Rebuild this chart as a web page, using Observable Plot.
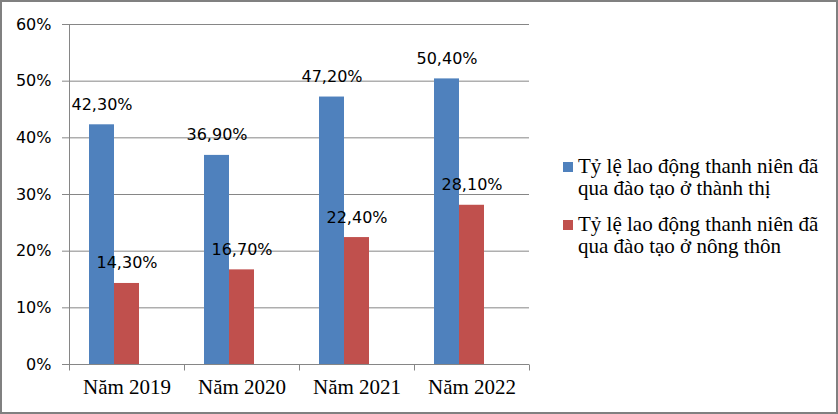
<!DOCTYPE html>
<html>
<head>
<meta charset="utf-8">
<script src="https://cdn.jsdelivr.net/npm/d3@7"></script>
<script src="https://cdn.jsdelivr.net/npm/@observablehq/plot@0.6"></script>
<style>
  html, body { margin: 0; padding: 0; background: #fff; }
  #wrap { position: relative; width: 838px; height: 414px; box-sizing: border-box; border: 2px solid #808080; background: #fff; overflow: hidden; }
  #chart { position: absolute; left: 0; top: 0; }
  #legend { position: absolute; left: 561px; top: 153px; font-family: "Liberation Serif", "Times New Roman", serif; font-size: 21px; line-height: 22px; color: #000; }
  .item { position: relative; padding-left: 15px; white-space: nowrap; }
  .item + .item { margin-top: 14px; }
  .sw { position: absolute; left: 0; top: 7px; width: 10px; height: 10px; }
  g[aria-label="fx-axis tick label"] { font-family: "Liberation Serif", "Times New Roman", serif; font-size: 21px; }
</style>
</head>
<body>
<div id="wrap">
  <div id="chart"></div>
  <div id="legend"></div>
</div>
<script>
const years = ["Năm 2019", "Năm 2020", "Năm 2021", "Năm 2022"];
const seriesNames = [
  "Tỷ lệ lao động thanh niên đã qua đào tạo ở thành thị",
  "Tỷ lệ lao động thanh niên đã qua đào tạo ở nông thôn"
];
const legendLines = [
  ["Tỷ lệ lao động thanh niên đã", "qua đào tạo ở thành thị"],
  ["Tỷ lệ lao động thanh niên đã", "qua đào tạo ở nông thôn"]
];
const urban = [42.3, 36.9, 47.2, 50.4];
const rural = [14.3, 16.7, 22.4, 28.1];
const colors = ["#4F81BD", "#C0504D"];
const yTicks = [0, 10, 20, 30, 40, 50, 60];

const rows = [];
years.forEach((yr, i) => {
  rows.push({year: yr, series: seriesNames[0], value: urban[i]});
  rows.push({year: yr, series: seriesNames[1], value: rural[i]});
});
const fmt = v => v.toFixed(2).replace(".", ",") + "%";

const plot = Plot.plot({
  width: 545,
  height: 410,
  marginLeft: 67,
  marginRight: 18,
  marginTop: 22,
  marginBottom: 48,
  style: {fontFamily: "'DejaVu Sans', sans-serif", fontSize: "16px", color: "#000", background: "transparent", overflow: "visible"},
  fx: {domain: years, paddingInner: 0, paddingOuter: 0, label: null},
  x: {domain: seriesNames, paddingInner: 0, paddingOuter: 1.25, align: 0.31, axis: null},
  y: {domain: [0, 60], label: null},
  color: {domain: seriesNames, range: colors},
  marks: [
    Plot.gridY(yTicks, {stroke: "#868686", strokeOpacity: 1}),
    Plot.barY(rows, {fx: "year", x: "series", y: "value", fill: "series"}),
    Plot.text(rows, {fx: "year", x: "series", y: "value", text: d => fmt(d.value), lineAnchor: "bottom", dy: -15, fill: "#000", fontSize: 16, fontFamily: "DejaVu Sans"}),
    Plot.axisY({ticks: yTicks, tickSize: 7, tickPadding: 11, tickFormat: d => d + "%", stroke: "#868686", fill: "#000", label: null}),
    Plot.axisFx({anchor: "bottom", tickSize: 0, tickPadding: 15, fill: "#000", label: null})
  ]
});
document.getElementById("chart").appendChild(plot);

// axis line and category boundary ticks, from the plot's own scales
const fx = plot.scale("fx"), y = plot.scale("y");
const edges = years.map(v => fx.apply(v));
edges.push(edges[edges.length - 1] + fx.bandwidth);
const svg = d3.select(plot);
const g = svg.append("g").attr("stroke", "#868686").attr("stroke-width", 1);
const y0 = Math.round(y.apply(0)) + 0.5;
g.append("line").attr("x1", Math.round(edges[0]) + 0.5).attr("x2", Math.round(edges[0]) + 0.5)
  .attr("y1", y.apply(60)).attr("y2", y0);
edges.forEach(e => {
  const xe = Math.round(e) + 0.5;
  g.append("line").attr("x1", xe).attr("x2", xe).attr("y1", y0).attr("y2", y0 + 6);
});

// legend
const legend = d3.select("#legend");
seriesNames.forEach((s, i) => {
  const it = legend.append("div").attr("class", "item");
  it.append("div").attr("class", "sw").style("background", colors[i]);
  it.append("span").html(legendLines[i].join("<br>"));
});
</script>
</body>
</html>
